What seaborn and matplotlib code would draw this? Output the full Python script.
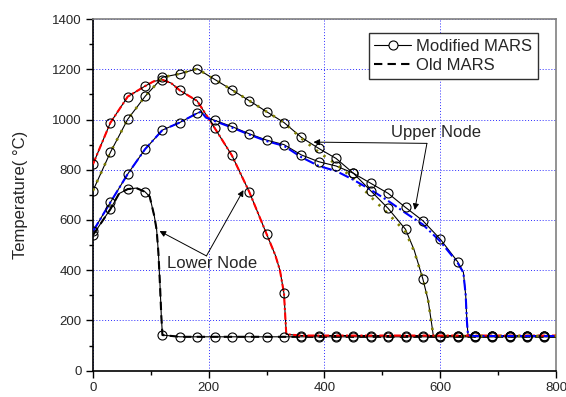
import numpy as np
import pandas as pd
import matplotlib
matplotlib.use("Agg")
import matplotlib.pyplot as plt
from matplotlib.lines import Line2D
import seaborn as sns

# ---- temperature histories (time in s, temperature in deg C) ----
# Lower node
low_time = [0, 30, 45, 60, 75, 90, 98, 106, 110, 113, 116, 118, 120,
            150, 180, 210, 240, 270, 300, 330, 360, 390, 420, 450, 480,
            510, 540, 570, 600, 630, 660, 690, 720, 750, 780, 800]
low_mod = [540, 643, 705, 723, 727, 712, 693, 615, 560, 470, 330, 220, 142,
           135, 135, 135, 135, 135, 135, 135, 135, 135, 135, 135, 135,
           135, 135, 135, 135, 135, 135, 135, 135, 135, 135, 135]
low_old = [540, 643, 705, 723, 727, 712, 693, 615, 560, 470, 330, 220, 142,
           135, 135, 135, 135, 135, 135, 135, 135, 135, 135, 135, 135,
           135, 135, 135, 135, 135, 135, 135, 135, 135, 135, 135]

# Second case (red)
red_time = [0, 30, 60, 90, 105, 120, 135, 150, 180, 210, 240, 270, 300,
            315, 323, 330, 334, 360, 390, 420, 450, 480, 510, 540, 570,
            600, 630, 660, 690, 720, 750, 780, 800]
red_mod = [822, 987, 1091, 1133, 1152, 1158, 1145, 1116, 1074, 967, 857,
           712, 544, 460, 400, 308, 145, 140, 140, 140, 140, 140, 140, 140,
           140, 140, 140, 140, 140, 140, 140, 140, 140]
red_old = [822, 987, 1091, 1133, 1152, 1158, 1145, 1116, 1074, 967, 857,
           712, 544, 460, 400, 308, 145, 140, 140, 140, 140, 140, 140, 140,
           140, 140, 140, 140, 140, 140, 140, 140, 140]

# Third case (olive)
olv_time = [0, 30, 60, 90, 120, 150, 180, 210, 240, 270, 300, 330, 360,
            390, 420, 450, 480, 510, 540, 555, 570, 579, 585, 588, 600,
            630, 660, 690, 720, 750, 780, 800]
olv_mod = [717, 869, 1001, 1092, 1168, 1182, 1202, 1160, 1118, 1075, 1031,
           988, 929, 885, 845, 786, 716, 646, 563, 480, 365, 281, 189, 140,
           138, 138, 138, 138, 138, 138, 138, 138]
olv_old = [717, 869, 1001, 1092, 1168, 1182, 1202, 1160, 1118, 1075, 1031,
           988, 925, 870, 822, 765, 692, 625, 553, 475, 365, 281, 189, 140,
           138, 138, 138, 138, 138, 138, 138, 138]

# Upper node (blue)
blu_time = [0, 30, 60, 90, 120, 150, 180, 187, 195, 210, 240, 270, 300,
            330, 360, 390, 420, 450, 480, 510, 540, 570, 600, 630, 640,
            644, 646, 648, 660, 690, 720, 750, 780, 800]
blu_mod = [555, 670, 783, 882, 958, 988, 1025, 1031, 1008, 997, 972, 943,
           918, 900, 859, 832, 815, 786, 746, 706, 650, 597, 524, 434, 392,
           300, 200, 142, 138, 138, 138, 138, 138, 138]
blu_old = [555, 670, 783, 882, 958, 988, 1025, 1031, 1008, 994, 968, 940,
           914, 895, 850, 815, 795, 760, 720, 676, 628, 582, 515, 430, 390,
           300, 200, 142, 138, 138, 138, 138, 138, 138]

legend_labels = ["Modified MARS", "Old MARS"]
x_ticks = [0, 200, 400, 600, 800]
y_ticks = [0, 200, 400, 600, 800, 1000, 1200, 1400]

# ---- styling ----
sns.set_style("ticks")
plt.rcParams["font.family"] = ["Liberation Sans", "DejaVu Sans"]

fig, ax = plt.subplots(figsize=(5.66, 3.97), dpi=100)
fig.subplots_adjust(left=0.1643, right=0.9823, top=0.9521, bottom=0.0662)

cases = [
    (low_time, low_mod, low_old, "black", 1.5, (0, (4, 2.5))),
    (red_time, red_mod, red_old, "#ff0000", 1.5, (0, (3.5, 1.2, 1, 1.2))),
    (olv_time, olv_mod, olv_old, "#808000", 1.9, (0, (0.9, 2.6))),
    (blu_time, blu_mod, blu_old, "#0000ff", 1.5, (0, (5, 1.5, 1, 1.5))),
]

for t, mod, old, col, width, dash in cases:
    df = pd.DataFrame({"time": t, "mod": mod, "old": old})
    # modified model: thin black line
    sns.lineplot(data=df, x="time", y="mod", ax=ax, color="black",
                 lw=0.8, estimator=None, sort=False, zorder=2)
    # old model: coloured broken line
    sns.lineplot(data=df, x="time", y="old", ax=ax, color=col,
                 lw=width, linestyle=dash, estimator=None, sort=False,
                 zorder=3)
    # hollow circle every 30 s on the modified curve
    pts = df[df["time"] % 30 == 0]
    sns.lineplot(data=pts, x="time", y="mod", ax=ax, color="black",
                 linestyle="none", marker="o", markersize=6.5,
                 markerfacecolor="none", markeredgecolor="black",
                 markeredgewidth=0.8, estimator=None, sort=False, zorder=4)

# ---- axes ----
ax.set_xlim(0, 800)
ax.set_ylim(0, 1400)
ax.set_xticks(x_ticks)
ax.set_yticks(y_ticks)
ax.set_xticks(np.arange(100, 800, 200), minor=True)
ax.set_yticks(np.arange(100, 1400, 200), minor=True)
ax.tick_params(which="major", direction="out", length=5, width=1.0,
               labelsize=9.5, color="black", pad=3)
ax.tick_params(which="minor", direction="out", length=2.8, width=1.0,
               color="black")
ax.set_xlabel("")
ax.set_ylabel("Temperature( °C)", fontsize=12)
ax.yaxis.set_label_coords(-0.14, 0.5)

ax.grid(True, which="major", color="#2a2aff", linestyle=(0, (1, 2)),
        linewidth=0.7)
ax.set_axisbelow(True)

for side in ["left", "bottom"]:
    ax.spines[side].set_color("black")
    ax.spines[side].set_linewidth(1.2)
for side in ["top", "right"]:
    ax.spines[side].set_color("#808080")
    ax.spines[side].set_linewidth(1.2)
    ax.spines[side].set_visible(True)

# ---- annotations ----
arrow = dict(arrowstyle="-|>", color="black", lw=0.7, mutation_scale=9,
             shrinkA=0, shrinkB=0)
upper_vertex = (577, 905)
for tip in [(381, 910), (556, 640)]:
    ax.annotate("", xy=tip, xytext=upper_vertex, arrowprops=arrow)
ax.text(593, 950, "Upper Node", fontsize=12, ha="center", va="center")

lower_vertex = (196, 457)
for tip in [(115, 556), (260, 719)]:
    ax.annotate("", xy=tip, xytext=lower_vertex, arrowprops=arrow)
ax.text(206, 425, "Lower Node", fontsize=12, ha="center", va="center")

# ---- legend ----
handles = [
    Line2D([], [], color="black", lw=0.8, marker="o", markersize=6.5,
           markerfacecolor="white", markeredgecolor="black",
           markeredgewidth=0.8),
    Line2D([], [], color="black", lw=1.5, linestyle=(0, (4, 2.5))),
]
leg = ax.legend(handles, legend_labels, loc="upper right",
                bbox_to_anchor=(0.961, 0.960), borderaxespad=0,
                fontsize=12, frameon=True, fancybox=False,
                handlelength=2.2, handletextpad=0.3, borderpad=0.35,
                labelspacing=0.25)
leg.get_frame().set_edgecolor("#303030")
leg.get_frame().set_linewidth(1.0)
leg.get_frame().set_alpha(1)

fig.savefig("out.png", dpi=100)
